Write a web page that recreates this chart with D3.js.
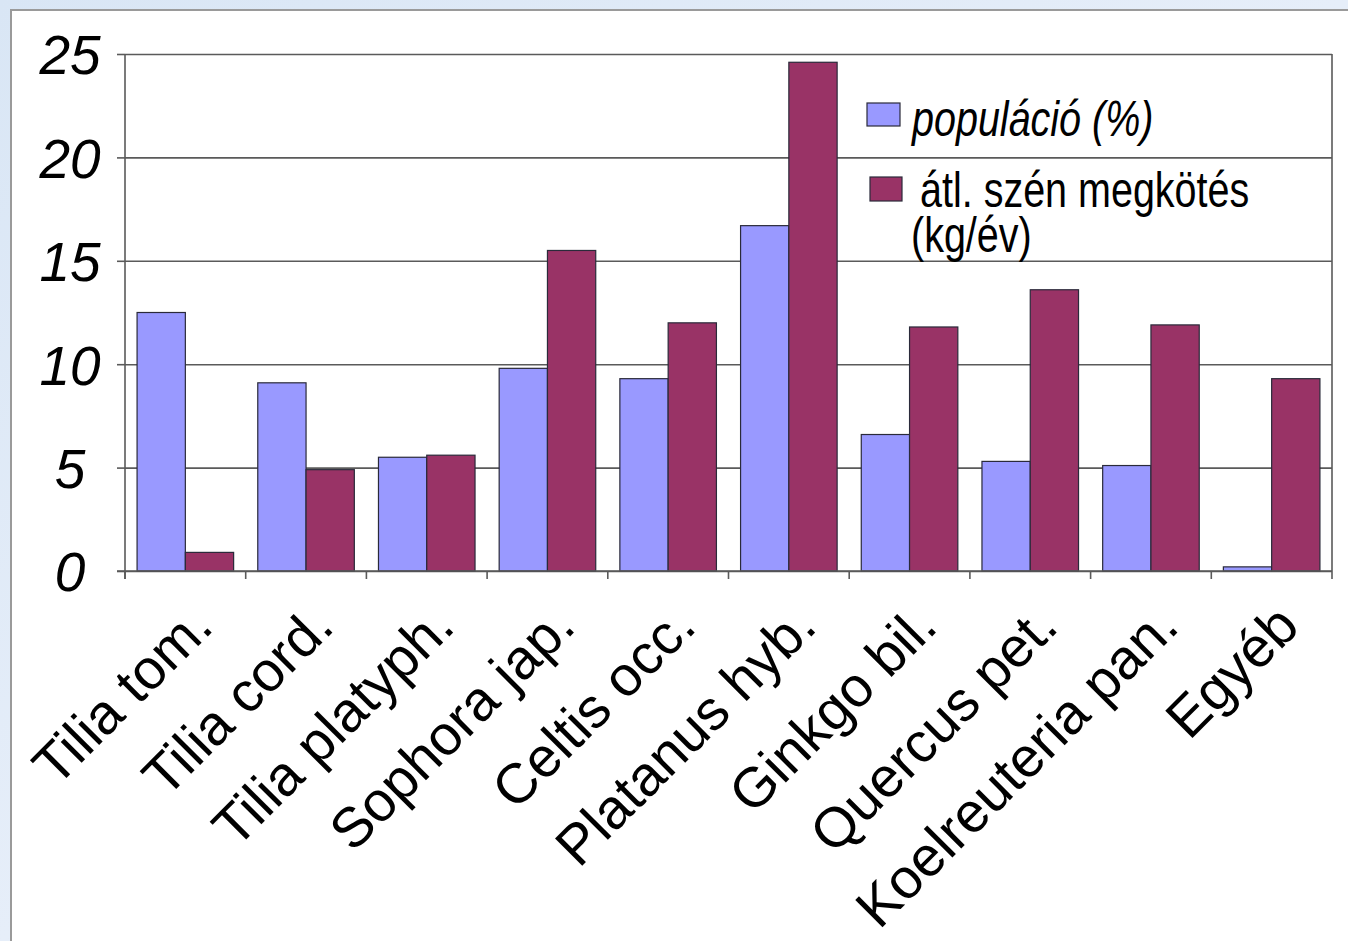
<!DOCTYPE html>
<html>
<head>
<meta charset="utf-8">
<script src="https://cdn.jsdelivr.net/npm/d3@7"></script>
<style>
body { margin: 0; overflow: hidden; }
</style>
</head>
<body>
<svg id="chart" width="1348" height="941"></svg>
<script>
var categories = ["Tilia tom.", "Tilia cord.", "Tilia platyph.", "Sophora jap.", "Celtis occ.",
    "Platanus hyb.", "Ginkgo bil.", "Quercus pet.", "Koelreuteria pan.", "Egyéb"];
var populacio = [12.5, 9.1, 5.5, 9.8, 9.3, 16.7, 6.6, 5.3, 5.1, 0.2];
var szenMegkotes = [0.9, 4.9, 5.6, 15.5, 12.0, 24.6, 11.8, 13.6, 11.9, 9.3];
var seriesNames = ["populáció (%)", "átl. szén megkötés (kg/év)"];
var yTicks = [0, 5, 10, 15, 20, 25];

var svg = d3.select("#chart");

// background
var defs = svg.append("defs");
var grad = defs.append("linearGradient").attr("id", "bg").attr("x1", 0).attr("y1", 0).attr("x2", 1).attr("y2", 1);
grad.append("stop").attr("offset", "0%").attr("stop-color", "#d9e6f5");
grad.append("stop").attr("offset", "50%").attr("stop-color", "#e6eef9");
grad.append("stop").attr("offset", "100%").attr("stop-color", "#d6e3f3");
svg.append("rect").attr("width", 1348).attr("height", 941).attr("fill", "url(#bg)");
svg.append("rect")
    .attr("x", 11).attr("y", 10).attr("width", 1400).attr("height", 1000)
    .attr("fill", "#ffffff").attr("stroke", "#9a9a9a").attr("stroke-width", 2);

var plotLeft = 125, plotRight = 1332, plotTop = 54, plotBottom = 571;
var lineColor = "#5a5a5a";

var x = d3.scaleBand().domain(categories).range([plotLeft, plotRight]).padding(0);
var x1 = d3.scaleBand().domain(seriesNames).range([0, x.bandwidth()]).paddingInner(0).paddingOuter(0.25);
var y = d3.scaleLinear().domain([0, 25]).range([plotBottom, plotTop]);
var colors = d3.scaleOrdinal().domain(seriesNames).range(["#9999ff", "#993366"]);

// gridlines
svg.append("g")
    .attr("transform", "translate(" + plotLeft + ",0)")
    .call(d3.axisLeft(y).tickValues(yTicks).tickSize(-(plotRight - plotLeft)).tickFormat(""))
    .call(function (g) { g.select(".domain").remove(); })
    .selectAll("line").attr("stroke", lineColor).attr("stroke-width", 1.6);

// right border
svg.append("line")
    .attr("x1", plotRight).attr("x2", plotRight).attr("y1", plotTop).attr("y2", plotBottom + 8)
    .attr("stroke", lineColor).attr("stroke-width", 1.6);

// bars
var rows = categories.map(function (c, i) {
    return { cat: c, values: [{ key: seriesNames[0], v: populacio[i] }, { key: seriesNames[1], v: szenMegkotes[i] }] };
});

var groups = svg.selectAll("g.cat")
    .data(rows)
    .enter()
    .append("g")
    .attr("class", "cat")
    .attr("transform", function (d) { return "translate(" + x(d.cat) + ",0)"; });

groups.selectAll("rect")
    .data(function (d) { return d.values; })
    .enter()
    .append("rect")
    .attr("x", function (d) { return x1(d.key); })
    .attr("y", function (d) { return y(d.v); })
    .attr("width", x1.bandwidth())
    .attr("height", function (d) { return y(0) - y(d.v); })
    .attr("fill", function (d) { return colors(d.key); })
    .attr("stroke", "#2a2a3a")
    .attr("stroke-width", 1.2);

// y axis
var yAxis = svg.append("g")
    .attr("transform", "translate(" + plotLeft + ",0)")
    .call(d3.axisLeft(y).tickValues(yTicks).tickSize(8).tickPadding(0));
yAxis.select(".domain").remove();
yAxis.selectAll("line").attr("stroke", lineColor).attr("stroke-width", 1.6);
yAxis.selectAll("text")
    .attr("x", -55)
    .attr("dy", "0.36em")
    .attr("text-anchor", "middle")
    .attr("fill", "#000")
    .style("font-family", "'Liberation Sans', Arial, sans-serif")
    .style("font-style", "italic")
    .style("font-size", "55px");
svg.append("line")
    .attr("x1", plotLeft).attr("x2", plotLeft).attr("y1", plotTop).attr("y2", plotBottom + 8)
    .attr("stroke", lineColor).attr("stroke-width", 1.6);

// x axis
svg.append("line")
    .attr("x1", plotLeft - 8).attr("x2", plotRight).attr("y1", plotBottom).attr("y2", plotBottom)
    .attr("stroke", lineColor).attr("stroke-width", 1.6);
var bounds = categories.map(function (c) { return x(c); });
svg.selectAll("line.xtick")
    .data(bounds)
    .enter()
    .append("line")
    .attr("class", "xtick")
    .attr("x1", function (d) { return d; }).attr("x2", function (d) { return d; })
    .attr("y1", plotBottom).attr("y2", plotBottom + 8)
    .attr("stroke", lineColor).attr("stroke-width", 1.6);

svg.selectAll("text.xlabel")
    .data(categories)
    .enter()
    .append("text")
    .attr("class", "xlabel")
    .attr("text-anchor", "end")
    .attr("transform", function (d) {
        return "translate(" + (x(d) + x.bandwidth() / 2 + 30) + "," + (plotBottom + 58) + ") rotate(-45)";
    })
    .style("font-family", "'Liberation Sans', Arial, sans-serif")
    .style("font-size", "56px")
    .text(function (d) { return d; });

// legend (condensed look via horizontal scale)
var legendFont = "'Liberation Sans', Arial, sans-serif";
var narrow = 0.79;
var legend = svg.append("g");
legend.append("rect")
    .attr("x", 867).attr("y", 103).attr("width", 33).attr("height", 23)
    .attr("fill", colors(seriesNames[0])).attr("stroke", "#2a2a3a").attr("stroke-width", 1.2);
legend.append("text")
    .attr("transform", "translate(912,136) scale(" + narrow + ",1)")
    .style("font-family", legendFont)
    .style("font-style", "italic")
    .style("font-size", "50px")
    .text(seriesNames[0]);
legend.append("rect")
    .attr("x", 870).attr("y", 177).attr("width", 32).attr("height", 24)
    .attr("fill", colors(seriesNames[1])).attr("stroke", "#2a2a3a").attr("stroke-width", 1.2);
legend.append("text")
    .attr("transform", "translate(920,207) scale(" + narrow + ",1)")
    .style("font-family", legendFont)
    .style("font-size", "50px")
    .text("átl. szén megkötés");
legend.append("text")
    .attr("transform", "translate(911,252) scale(" + narrow + ",1)")
    .style("font-family", legendFont)
    .style("font-size", "50px")
    .text("(kg/év)");
</script>
</body>
</html>
